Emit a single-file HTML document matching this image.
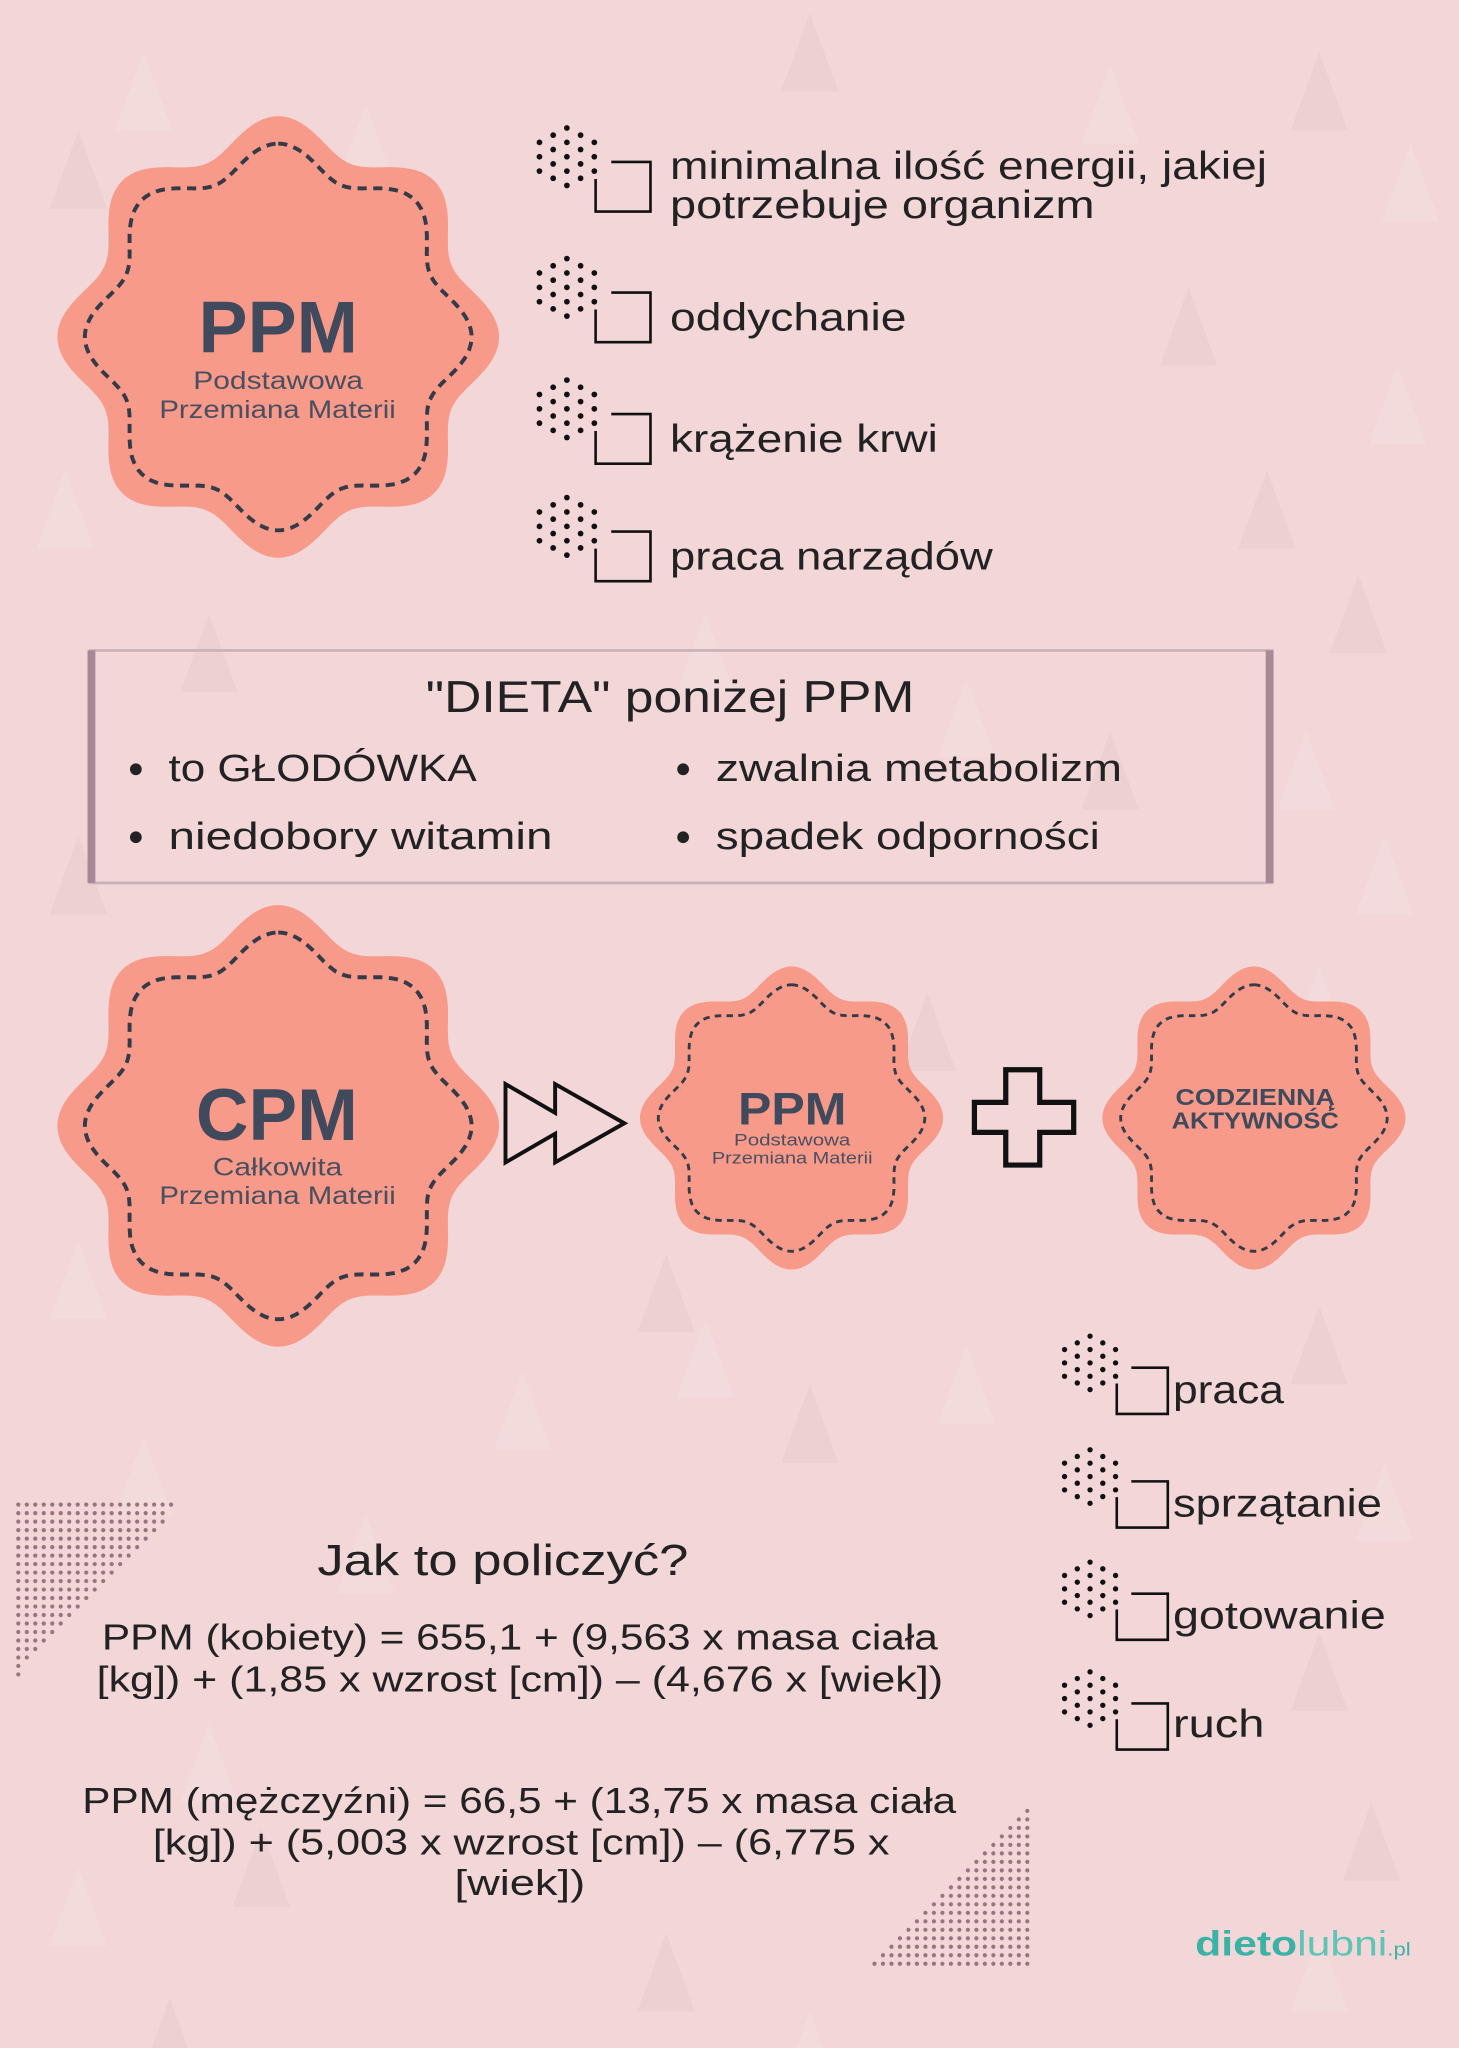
<!DOCTYPE html>
<html><head><meta charset="utf-8">
<style>
html,body{margin:0;padding:0;width:1459px;height:2048px;overflow:hidden;background:#f2d6d8;}
#w{position:absolute;left:0;top:0;width:1117px;height:1568px;transform:scale(1.30618,1.30612);transform-origin:0 0;font-family:"Liberation Sans","DejaVu Sans",sans-serif;}
svg{position:absolute;left:0;top:0;}
</style></head><body>
<div id="w">
<svg id="s" width="1117" height="1568" viewBox="0 0 1117 1568" xmlns="http://www.w3.org/2000/svg">
<rect width="1117" height="1568" fill="#f2d6d8"/>
<g id="tri" opacity="0.35"></g>
<g id="stars"></g>
<g id="icons"></g>
<g id="dots" fill="#9a7380"></g>
<rect x="69" y="498" width="905" height="178" fill="none" stroke="#c8b2b6" stroke-width="2"/>
<rect x="67" y="498" width="6" height="178" fill="#a88894"/>
<rect x="969" y="498" width="6" height="178" fill="#a88894"/>
<g font-family="Liberation Sans, sans-serif" fill="#222">
<text x="326" y="545" font-size="34" textLength="374" lengthAdjust="spacingAndGlyphs">"DIETA" poniżej PPM</text>
<circle cx="104" cy="589" r="4.5"/><circle cx="104" cy="641" r="4.5"/>
<circle cx="523" cy="589" r="4.5"/><circle cx="523" cy="641" r="4.5"/>
<text x="129" y="598" font-size="29" textLength="236" lengthAdjust="spacingAndGlyphs">to GŁODÓWKA</text>
<text x="129" y="650" font-size="29" textLength="294" lengthAdjust="spacingAndGlyphs">niedobory witamin</text>
<text x="548" y="598" font-size="29" textLength="311" lengthAdjust="spacingAndGlyphs">zwalnia metabolizm</text>
<text x="548" y="650" font-size="29" textLength="294" lengthAdjust="spacingAndGlyphs">spadek odporności</text>
</g>
<g font-family="Liberation Sans, sans-serif" fill="#222" font-size="30">
<text x="513" y="137" textLength="457" lengthAdjust="spacingAndGlyphs">minimalna ilość energii, jakiej</text>
<text x="513" y="167" textLength="325" lengthAdjust="spacingAndGlyphs">potrzebuje organizm</text>
<text x="513" y="253" textLength="181" lengthAdjust="spacingAndGlyphs">oddychanie</text>
<text x="513" y="346" textLength="205" lengthAdjust="spacingAndGlyphs">krążenie krwi</text>
<text x="513" y="436" textLength="247" lengthAdjust="spacingAndGlyphs">praca narządów</text>
<text x="898" y="1074" textLength="85" lengthAdjust="spacingAndGlyphs">praca</text>
<text x="898" y="1161" textLength="160" lengthAdjust="spacingAndGlyphs">sprzątanie</text>
<text x="898" y="1247" textLength="163" lengthAdjust="spacingAndGlyphs">gotowanie</text>
<text x="898" y="1330" textLength="70" lengthAdjust="spacingAndGlyphs">ruch</text>
</g>
<g font-family="Liberation Sans, sans-serif">
<text x="152" y="270" font-size="56" font-weight="bold" fill="#404a5c" textLength="122" lengthAdjust="spacingAndGlyphs">PPM</text>
<text x="148" y="298" font-size="19" fill="#4a4f60" textLength="130" lengthAdjust="spacingAndGlyphs">Podstawowa</text>
<text x="122" y="320" font-size="19" fill="#4a4f60" textLength="181" lengthAdjust="spacingAndGlyphs">Przemiana Materii</text>
<text x="150" y="873" font-size="56" font-weight="bold" fill="#404a5c" textLength="124" lengthAdjust="spacingAndGlyphs">CPM</text>
<text x="163" y="900" font-size="19" fill="#4a4f60" textLength="99" lengthAdjust="spacingAndGlyphs">Całkowita</text>
<text x="122" y="922" font-size="19" fill="#4a4f60" textLength="181" lengthAdjust="spacingAndGlyphs">Przemiana Materii</text>
<text x="565" y="861" font-size="35" font-weight="bold" fill="#404a5c" textLength="83" lengthAdjust="spacingAndGlyphs">PPM</text>
<text x="562" y="877" font-size="13" fill="#4a4f60" textLength="89" lengthAdjust="spacingAndGlyphs">Podstawowa</text>
<text x="545" y="891" font-size="13" fill="#4a4f60" textLength="123" lengthAdjust="spacingAndGlyphs">Przemiana Materii</text>
<text x="900" y="846" font-size="18" font-weight="bold" fill="#404a5c" textLength="122" lengthAdjust="spacingAndGlyphs">CODZIENNĄ</text>
<text x="897" y="864" font-size="18" font-weight="bold" fill="#404a5c" textLength="128" lengthAdjust="spacingAndGlyphs">AKTYWNOŚĆ</text>
</g>
<path d="M387 830 L425 852 L425 830 L478 860 L425 890 L425 868 L387 890 Z" fill="none" stroke="#111" stroke-width="3" stroke-linejoin="miter"/>
<path d="M770 819 H796 V844 H822 V867 H796 V892 H770 V867 H746 V844 H770 Z" fill="none" stroke="#111" stroke-width="4"/>
<g font-family="Liberation Sans, sans-serif" fill="#222">
<text x="243" y="1206" font-size="33" textLength="284" lengthAdjust="spacingAndGlyphs">Jak to policzyć?</text>
<text x="78" y="1263" font-size="28" textLength="640" lengthAdjust="spacingAndGlyphs">PPM (kobiety) = 655,1 + (9,563 x masa ciała</text>
<text x="74" y="1295" font-size="28" textLength="648" lengthAdjust="spacingAndGlyphs">[kg]) + (1,85 x wzrost [cm]) – (4,676 x [wiek])</text>
<text x="63" y="1388" font-size="28" textLength="669" lengthAdjust="spacingAndGlyphs">PPM (mężczyźni) = 66,5 + (13,75 x masa ciała</text>
<text x="117" y="1420" font-size="28" textLength="564" lengthAdjust="spacingAndGlyphs">[kg]) + (5,003 x wzrost [cm]) – (6,775 x</text>
<text x="348" y="1451" font-size="28" textLength="100" lengthAdjust="spacingAndGlyphs">[wiek])</text>
</g>
<text x="915" y="1497" font-family="Liberation Sans, sans-serif" font-size="27" fill="#3ab3a6" textLength="165" lengthAdjust="spacingAndGlyphs"><tspan font-weight="bold">dieto</tspan><tspan fill="#5fc4b8">lubni</tspan><tspan font-size="14">.pl</tspan></text>
</svg>
</div>
<script>
var NS="http://www.w3.org/2000/svg";
function el(p,t,a){var e=document.createElementNS(NS,t);for(var k in a)e.setAttribute(k,a[k]);p.appendChild(e);return e;}
function star(cx,cy,R,d){var s="";for(var i=0;i<=720;i++){var t=i*Math.PI/360;
var f=(1+Math.cos(8*t))/2;var r=R*(1-d+d*f);
var x=cx+r*Math.sin(t),y=cy-r*Math.cos(t);s+=(i?"L":"M")+x.toFixed(1)+" "+y.toFixed(1);}return s+"Z";}
var g=document.getElementById("stars");
[[213,258,169,3,7,5,21],[213,862,169,3,7,5,21],[606,856,116,2.2,5,4,14],[960,856,116,2.2,5,4,14]].forEach(function(a){
el(g,"path",{d:star(a[0],a[1],a[2],0.15),fill:"#f79a89"});
el(g,"path",{d:star(a[0],a[1],a[2]-a[6],0.15),fill:"none",stroke:"#333a48","stroke-width":a[3],"stroke-dasharray":a[4]+" "+a[5]});
});
var ic=document.getElementById("icons");
function icon(x,y,sc){var cols=[[1,3],[0.5,4],[0,5],[0.5,4],[1,3]];
for(var c=0;c<5;c++){for(var r=0;r<cols[c][1];r++){el(ic,"circle",{cx:x+c*10.5*sc,cy:y+(cols[c][0]+r)*11*sc,r:2.2*sc,fill:"#111"});}}
var sx=x+43*sc,sy=y+26*sc,w=42*sc,h=38*sc;
el(ic,"path",{d:"M"+(sx+12*sc)+" "+sy+" H"+(sx+w)+" V"+(sy+h)+" H"+sx+" V"+(sy+13*sc),fill:"none",stroke:"#111","stroke-width":2});}
[[413,98],[413,198],[413,291],[413,381]].forEach(function(p){icon(p[0],p[1],1);});
[[815,1023],[815,1110],[815,1196],[815,1280]].forEach(function(p){icon(p[0],p[1],0.93);});
var dg=document.getElementById("dots");
for(var y=1152;y<=1282;y+=6.5){for(var x=14;x<=137;x+=6.5){ if((x-14)/123+(y-1152)/130<=1.0) el(dg,"circle",{cx:x,cy:y,r:1.6});}}
for(var y=1380;y<=1508;y+=6.5){for(var x=663;x<=787;x+=6.5){ if((x-663)/124+(y-1380)/128>=1.0) el(dg,"circle",{cx:x,cy:y,r:1.6});}}
var tg=document.getElementById("tri");
[[110,40,1],[60,100,0],[280,80,1],[620,10,0],[850,50,1],[1010,40,0],[1080,110,1],[910,220,0],[1070,280,1],[50,360,1],[970,360,0],[1040,440,0],[540,470,1],[160,470,0],[1000,560,1],[740,520,1],[850,560,0],[60,640,0],[1060,640,1],[710,760,0],[1010,740,1],[60,950,1],[510,960,0],[540,1010,1],[400,1050,1],[620,1060,0],[740,1030,1],[1010,1000,0],[1060,1120,1],[110,1100,1],[1010,1250,0],[280,1160,1],[160,1320,1],[200,1400,0],[60,1430,1],[510,1480,0],[1010,1480,1],[620,1540,1],[130,1530,0],[1050,1380,0]].forEach(function(t){
var x=t[0],y=t[1];el(tg,"path",{d:"M"+x+" "+y+" L"+(x+22)+" "+(y+60)+" L"+(x-22)+" "+(y+60)+"Z",fill:t[2]?"#f7e4e4":"#e6c6c9"});});
</script>
</body></html>
